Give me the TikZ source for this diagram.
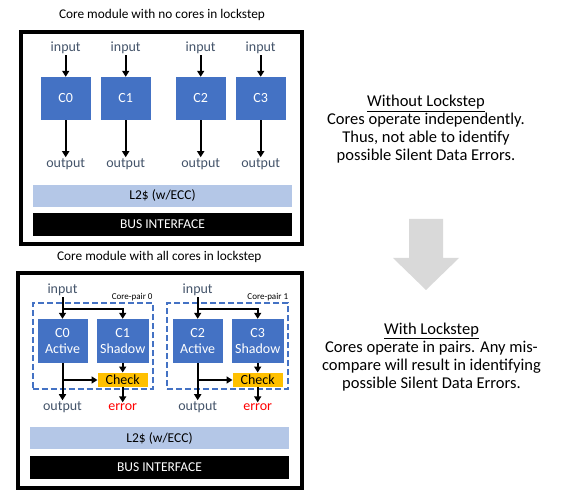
\documentclass[tikz,border=0pt]{standalone}
\usepackage{fontspec}
\setmainfont{Carlito}
\usetikzlibrary{arrows.meta}
\definecolor{coreblue}{HTML}{4472C4}
\definecolor{cacheblue}{HTML}{B4C7E7}
\definecolor{checkgold}{HTML}{FFC000}
\definecolor{labelgray}{HTML}{44546A}
\definecolor{arrowgray}{HTML}{D9D9D9}
\tikzset{
  core/.style={fill=coreblue, text=white, minimum width=50pt, minimum height=43pt, align=center, font=\fontsize{14}{16}\selectfont},
  checkbox/.style={fill=checkgold, minimum width=50pt, minimum height=14.5pt, inner sep=0pt, font=\fontsize{14}{15}\selectfont},
  port/.style={text=labelgray, inner sep=1pt, font=\fontsize{14}{15}\selectfont},
  errtext/.style={port, text=red},
  module/.style={draw, line width=4.5pt},
  pairbox/.style={draw=coreblue, line width=2pt, dash pattern=on 6pt off 3pt},
  pairlabel/.style={inner sep=1pt, font=\fontsize{9}{10}\selectfont},
  cache/.style={fill=cacheblue, minimum width=259pt, minimum height=22pt, font=\fontsize{13.5}{15}\selectfont},
  bus/.style={fill=black, text=white, minimum width=259pt, minimum height=23pt, font=\fontsize{13.5}{15}\selectfont},
  title/.style={font=\fontsize{13.3}{15}\selectfont},
  note/.style={align=center, font=\fontsize{16.5}{18}\selectfont},
  wire/.style={line width=2pt, -{Triangle[length=6pt,width=7pt]}}
}
\begin{document}
\begin{tikzpicture}[x=1pt, y=-1pt]
\useasboundingbox (0,0) rectangle (566,497);

\node[title] (titleA) at (162,15) {Core module with no cores in lockstep};
\node[module, minimum width=281pt, minimum height=212pt] (modA) at (161.5,138) {};
\node[core] (c0) at (65.7,98.5) {C0};
\node[core] (c1) at (125.7,98.5) {C1};
\node[core] (c2) at (200.7,98.5) {C2};
\node[core] (c3) at (260.7,98.5) {C3};
\node[port] (in0) at (65.7,48) {input};
\node[port] (in1) at (125.7,48) {input};
\node[port] (in2) at (200.7,48) {input};
\node[port] (in3) at (260.7,48) {input};
\node[port] (out0) at (65.7,164) {output};
\node[port] (out1) at (125.7,164) {output};
\node[port] (out2) at (200.7,164) {output};
\node[port] (out3) at (260.7,164) {output};
\draw[wire] (in0) -- (c0);
\draw[wire] (in1) -- (c1);
\draw[wire] (in2) -- (c2);
\draw[wire] (in3) -- (c3);
\draw[wire] (c0) -- (out0);
\draw[wire] (c1) -- (out1);
\draw[wire] (c2) -- (out2);
\draw[wire] (c3) -- (out3);
\node[cache] (l2A) at (162.5,196) {L2\$ (w/ECC)};
\node[bus] (busA) at (162.5,224.5) {BUS INTERFACE};

\node[note] (noteA) at (426,129.5) {\underline{Without Lockstep}\\Cores operate independently.\\Thus, not able to identify\\possible Silent Data Errors.};

\fill[arrowgray] (409,219) -- (443,219) -- (443,258) -- (459,258) -- (426,290) -- (393,258) -- (409,258) -- cycle;

\node[title] (titleB) at (159.3,257) {Core module with all cores in lockstep};
\node[module, minimum width=284pt, minimum height=215pt] (modB) at (160,380.5) {};
\node[pairbox, minimum width=120pt, minimum height=86pt] (pair0) at (92.7,346.3) {};
\node[pairbox, minimum width=121pt, minimum height=86pt] (pair1) at (227.8,346.3) {};
\node[pairlabel, anchor=south east] at (pair0.north east) {Core-pair 0};
\node[pairlabel, anchor=south east] at (pair1.north east) {Core-pair 1};
\node[core, minimum height=44pt] (a0) at (62.5,341) {C0\\Active};
\node[core, minimum height=44pt] (s1) at (122.7,341) {C1\\Shadow};
\node[core, minimum height=44pt] (a2) at (197.7,341) {C2\\Active};
\node[core, minimum height=44pt] (s3) at (257.7,341) {C3\\Shadow};
\node[checkbox] (chk0) at (122.7,380) {Check};
\node[checkbox] (chk1) at (257.7,380) {Check};
\node[port] (pin0) at (62.5,290) {input};
\node[port] (pin1) at (197.7,290) {input};
\node[port] (pout0) at (62.5,407) {output};
\node[port] (pout1) at (197.7,407) {output};
\node[errtext] (err0) at (122.7,407) {error};
\node[errtext] (err1) at (257.7,407) {error};
\draw[wire] (pin0) -- (a0);
\draw[wire] (a0.north) ++(0,-10) -| (s1.north);
\draw[wire] (a0) -- (pout0);
\draw[wire] (a0.south |- chk0.west) -- (chk0.west);
\draw[wire] (s1) -- (chk0);
\draw[wire] (chk0) -- (err0);
\draw[wire] (pin1) -- (a2);
\draw[wire] (a2.north) ++(0,-10) -| (s3.north);
\draw[wire] (a2) -- (pout1);
\draw[wire] (a2.south |- chk1.west) -- (chk1.west);
\draw[wire] (s3) -- (chk1);
\draw[wire] (chk1) -- (err1);
\node[cache] (l2B) at (159.5,438) {L2\$ (w/ECC)};
\node[bus] (busB) at (159.5,467.5) {BUS INTERFACE};

\node[note] (noteB) at (431.5,356.7) {\underline{With Lockstep}\\Cores operate in pairs. Any mis-\\compare will result in identifying\\possible Silent Data Errors.};
\end{tikzpicture}
\end{document}
